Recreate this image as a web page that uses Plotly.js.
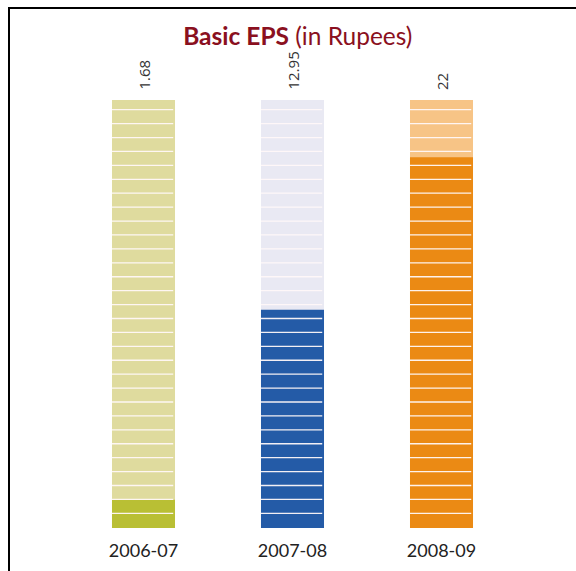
<!DOCTYPE html>
<html>
<head>
<meta charset="utf-8">
<script src="https://cdn.plot.ly/plotly-3.0.1.min.js"></script>
<style>
html,body{margin:0;padding:0;background:#fff;}
#frame{position:absolute;left:8px;top:7px;width:568px;height:564px;border-top:2px solid #000;border-left:2px solid #000;box-sizing:border-box;pointer-events:none;z-index:5;}
#chart{position:absolute;left:0;top:0;width:576px;height:571px;}
</style>
</head>
<body>
<div id="chart"></div>
<div id="frame"></div>
<script>
const categories = ['2006-07', '2007-08', '2008-09'];
const eps = [1.68, 12.95, 22];
const epsLabels = ['1.68', '12.95', '22'];
const scaleMax = [25.4, 25.4, 25.4];
const lightColors = ['#dfdb9e', '#e9e9f3', '#f7c486'];
const darkColors = ['#b9bf34', '#245ba7', '#eb8a14'];

const barWidth = 0.423;

const bgTrace = {
  type: 'bar', x: categories, y: scaleMax, width: barWidth,
  marker: {color: lightColors, line: {width: 0}}, hoverinfo: 'skip', showlegend: false
};
const fgTrace = {
  type: 'bar', x: categories, y: eps, width: barWidth,
  marker: {color: darkColors, line: {width: 0}}, showlegend: false
};

// decorative stripes across each bar
const shapes = [];
const stripeStart = 0.87, stripeStep = 0.826, stripeCount = 30;
for (let i = 0; i < categories.length; i++) {
  for (let k = 0; k < stripeCount; k++) {
    const yv = stripeStart + k * stripeStep;
    shapes.push({
      type: 'line', xref: 'x', yref: 'y', layer: 'above',
      x0: i - barWidth / 2, x1: i + barWidth / 2 - 0.012, y0: yv, y1: yv,
      line: {color: 'rgba(255,248,248,0.95)', width: 1.3}
    });
  }
}

const annotations = categories.map((c, i) => ({
  x: c, y: scaleMax[i], xref: 'x', yref: 'y',
  text: epsLabels[i], showarrow: false, textangle: -90,
  yanchor: 'bottom', xanchor: 'center', yshift: 8,
  font: {family: 'Open Sans, sans-serif', size: 15, color: '#333'}
}));

const layout = {
  width: 576, height: 571,
  margin: {l: 69, r: 59.5, t: 100, b: 43},
  paper_bgcolor: '#fff', plot_bgcolor: '#fff',
  barmode: 'overlay',
  title: {
    text: '<b>Basic EPS</b> (in Rupees)',
    x: 0.517, xanchor: 'center', y: 0.937, yanchor: 'middle',
    font: {family: 'Lato, Open Sans, sans-serif', size: 24.5, color: '#8a1020'}
  },
  xaxis: {
    type: 'category', range: [-0.5, 2.5], showgrid: false, zeroline: false,
    showline: false, ticks: '', ticklabelstandoff: 10,
    tickfont: {family: 'Lato, Open Sans, sans-serif', size: 18, color: '#222'}
  },
  yaxis: {
    range: [0, 25.4], visible: false, showgrid: false, zeroline: false
  },
  shapes: shapes,
  annotations: annotations,
  showlegend: false
};

Plotly.newPlot('chart', [bgTrace, fgTrace], layout, {displayModeBar: false, staticPlot: true});
</script>
</body>
</html>
